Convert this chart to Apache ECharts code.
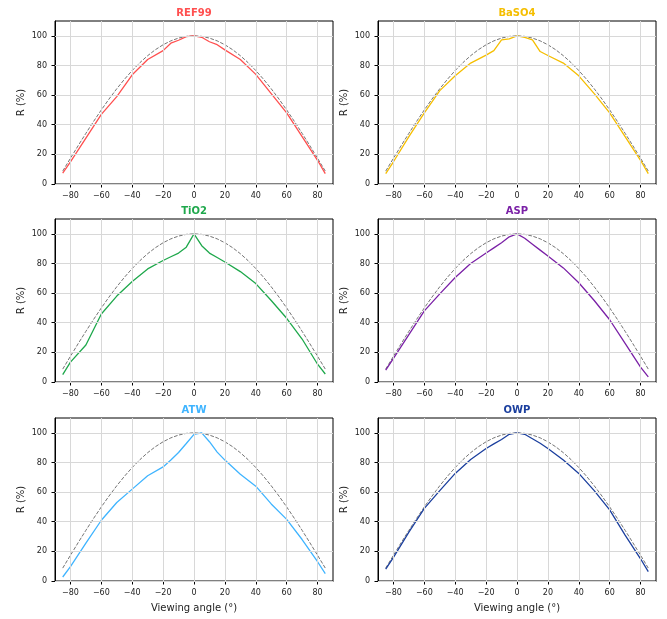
<!DOCTYPE html>
<html>
<head>
<meta charset="utf-8">
<script src="https://cdn.jsdelivr.net/npm/echarts@6/dist/echarts.min.js"></script>
<style>
  html, body { margin: 0; padding: 0; background: #fff; }
  #chart { width: 667px; height: 619px; }
</style>
</head>
<body>
<div id="chart"></div>
<script>
// 测量角度（度）
const angles = [-85, -80, -70, -60, -50, -40, -30, -20, -15, -10, -5, 0, 5, 10, 15, 20, 30, 40, 50, 60, 70, 80, 85]
// 各样品的反射率 R (%)
const ref99 = [7.4, 15, 31, 47, 59, 73.7, 84, 90, 95, 97, 99.5, 100, 99, 96, 94, 90.5, 84, 74, 61, 48, 32, 16, 7]
const baso4 = [7, 15, 32, 48, 63, 73, 81.6, 87, 90, 97.3, 98, 100, 99, 97.3, 89.4, 86.7, 81.6, 73, 61, 48, 32, 16, 7]
const tio2 = [5, 13.4, 25, 45.9, 58, 67.8, 76.3, 82, 84.5, 87, 91, 100, 92, 87, 84, 81, 74.5, 66.4, 55, 43, 29, 12, 5.4]
const asp = [8, 16, 32, 48, 59.5, 70.5, 80, 87, 90.5, 94, 98, 100, 97, 93, 89, 85, 77, 67, 55, 42, 26, 10, 3.4]
const atw = [2.7, 9.7, 25.5, 41, 53, 62, 71, 77, 81.6, 86.7, 92.8, 99, 100, 94, 87, 81.6, 72, 64, 52, 41.6, 28, 13, 5]
const owp = [8, 16, 33, 49, 61, 72.6, 82, 89.4, 92.5, 95.5, 99, 100, 99, 96, 93, 89.4, 81.6, 72.6, 61, 48, 31, 15, 6.3]

// 朗伯参考曲线（虚线）
const lambAngles = [-85, -80, -75, -70, -65, -60, -55, -50, -45, -40, -35, -30, -25, -20, -15, -10, -5, 0, 5, 10, 15, 20, 25, 30, 35, 40, 45, 50, 55, 60, 65, 70, 75, 80, 85]
const lambValues = [8.72, 17.36, 25.88, 34.2, 42.26, 50, 57.36, 64.28, 70.71, 76.6, 81.92, 86.6, 90.63, 93.97, 96.59, 98.48, 99.62, 100, 99.62, 98.48, 96.59, 93.97, 90.63, 86.6, 81.92, 76.6, 70.71, 64.28, 57.36, 50, 42.26, 34.2, 25.88, 17.36, 8.72]

const xTicks = [-80, -60, -40, -20, 0, 20, 40, 60, 80]
const yTicks = [0, 20, 40, 60, 80, 100]

const panels = [
  { name: 'REF99', data: ref99, color: '#ff4f4f' },
  { name: 'BaSO4', data: baso4, color: '#f5be00' },
  { name: 'TiO2', data: tio2, color: '#1fa84c' },
  { name: 'ASP', data: asp, color: '#7a20a6' },
  { name: 'ATW', data: atw, color: '#3fb4ff' },
  { name: 'OWP', data: owp, color: '#1b3f9e' }
]

const colLeft = [55, 378]
const rowTop = [21, 219, 418]
const W = 278
const H = 163

const grids = []
const xAxes = []
const yAxes = []
const series = []
const graphics = []

// 网格线（按刻度位置）
const gridLines = xTicks.map(function (v) { return { xAxis: v } })
  .concat(yTicks.map(function (v) { return { yAxis: v } }))

panels.forEach(function (p, i) {
  const col = i % 2
  const row = Math.floor(i / 2)
  grids.push({
    left: colLeft[col], top: rowTop[row], width: W, height: H,
    show: true, borderColor: '#000', borderWidth: 1, backgroundColor: '#fff'
  })
  xAxes.push({
    type: 'value', gridIndex: i, min: -90, max: 90,
    name: row === 2 ? 'Viewing angle (°)' : '',
    nameLocation: 'middle', nameGap: 22,
    nameTextStyle: { fontSize: 10, color: '#222', fontFamily: 'DejaVu Sans' },
    axisLine: { show: true, onZero: false, lineStyle: { color: '#000' } },
    axisTick: { show: true, length: 3.5, customValues: xTicks, lineStyle: { color: '#000' } },
    axisLabel: { customValues: xTicks, fontSize: 8, color: '#222', margin: 7.5, fontFamily: 'DejaVu Sans',
      formatter: function (v) { return String(v).replace('-', '\u2212') } },
    splitLine: { show: false }
  })
  yAxes.push({
    type: 'value', gridIndex: i, min: 0, max: 110,
    name: 'R (%)', nameLocation: 'middle', nameGap: 29,
    nameTextStyle: { fontSize: 10, color: '#222', fontFamily: 'DejaVu Sans' },
    axisLine: { show: true, onZero: false, lineStyle: { color: '#000' } },
    axisTick: { show: true, length: 3.5, customValues: yTicks, lineStyle: { color: '#000' } },
    axisLabel: { customValues: yTicks, fontSize: 8, color: '#222', margin: 8, fontFamily: 'DejaVu Sans' },
    splitLine: { show: false }
  })
  // 网格线系列
  series.push({
    type: 'line', xAxisIndex: i, yAxisIndex: i, showSymbol: false, silent: true, z: 1,
    data: lambAngles.map(function (a, k) { return [a, lambValues[k]] }),
    lineStyle: { opacity: 0 },
    markLine: {
      silent: true, symbol: 'none', animation: false,
      label: { show: false },
      lineStyle: { color: '#d8d8d8', width: 1, type: 'solid' },
      emphasis: { disabled: true },
      data: gridLines
    }
  })
  series.push({
    type: 'line', xAxisIndex: i, yAxisIndex: i, showSymbol: false, silent: true,
    data: lambAngles.map(function (a, k) { return [a, lambValues[k]] }),
    lineStyle: { color: '#757575', width: 1, type: [3.7, 1.6] }, z: 2
  })
  series.push({
    type: 'line', xAxisIndex: i, yAxisIndex: i, showSymbol: false, silent: true,
    data: angles.map(function (a, k) { return [a, p.data[k]] }),
    lineStyle: { color: p.color, width: 1.3 }, z: 3
  })
  // 子图标题
  graphics.push({
    type: 'text', x: colLeft[col] + W / 2, y: rowTop[row] - 8,
    style: {
      text: p.name, fill: p.color, font: 'bold 10px "DejaVu Sans"',
      textAlign: 'center', textVerticalAlign: 'middle'
    }
  })
})

const myChart = echarts.init(document.getElementById('chart'), null, { renderer: 'canvas' })
myChart.setOption({
  animation: false,
  grid: grids,
  xAxis: xAxes,
  yAxis: yAxes,
  series: series,
  graphic: graphics
})
</script>
</body>
</html>
